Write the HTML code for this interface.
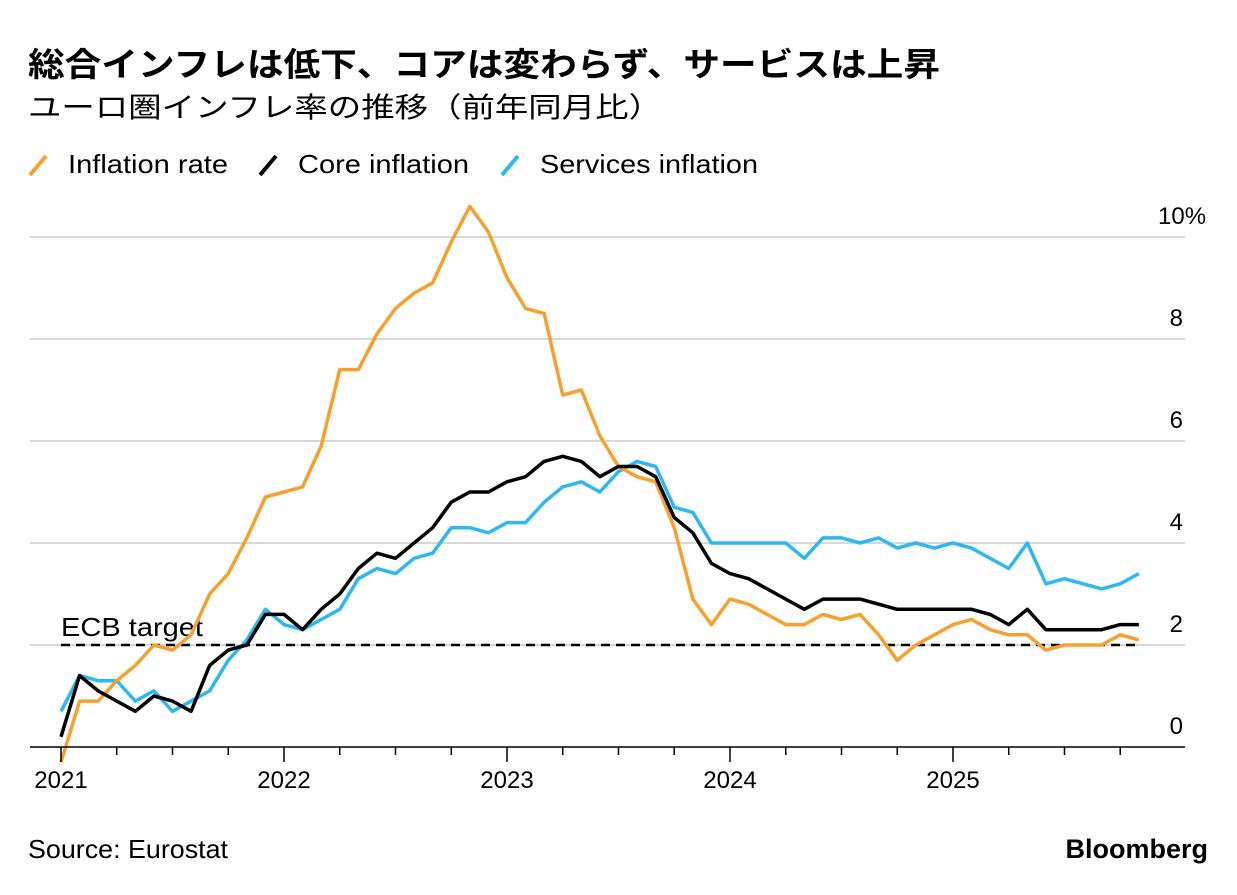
<!DOCTYPE html>
<html><head><meta charset="utf-8">
<style>
body{margin:0;background:#fff;width:1237px;height:890px;overflow:hidden;font-family:"Liberation Sans","Noto Sans CJK JP",sans-serif;}
</style></head>
<body>
<svg width="1237" height="890" xmlns="http://www.w3.org/2000/svg" id="chart">
<text x="28" y="76" font-size="33" font-weight="bold" fill="#000" textLength="912" lengthAdjust="spacingAndGlyphs">総合インフレは低下、コアは変わらず、サービスは上昇</text>
<text x="28" y="117" font-size="28" fill="#000" textLength="634" lengthAdjust="spacingAndGlyphs">ユーロ圏インフレ率の推移（前年同月比）</text>
<g id="legend"></g>
<g id="grid"></g><g id="series"></g><g id="axis"></g>
<text x="28" y="858" font-size="26" fill="#000" textLength="200" lengthAdjust="spacingAndGlyphs">Source: Eurostat</text>
<text x="1208" y="858" font-size="27" font-weight="bold" fill="#000" text-anchor="end">Bloomberg</text>
</svg>
<script>
const yTicks=[0,2,4,6,8,10];
const yearLabels=["2021","2022","2023","2024","2025"];
const headline=[-0.3,0.9,0.9,1.3,1.6,2.0,1.9,2.2,3.0,3.4,4.1,4.9,5.0,5.1,5.9,7.4,7.4,8.1,8.6,8.9,9.1,9.9,10.6,10.1,9.2,8.6,8.5,6.9,7.0,6.1,5.5,5.3,5.2,4.3,2.9,2.4,2.9,2.8,2.6,2.4,2.4,2.6,2.5,2.6,2.2,1.7,2.0,2.2,2.4,2.5,2.3,2.2,2.2,1.9,2.0,2.0,2.0,2.2,2.1];
const core=[0.2,1.4,1.1,0.9,0.7,1.0,0.9,0.7,1.6,1.9,2.0,2.6,2.6,2.3,2.7,3.0,3.5,3.8,3.7,4.0,4.3,4.8,5.0,5.0,5.2,5.3,5.6,5.7,5.6,5.3,5.5,5.5,5.3,4.5,4.2,3.6,3.4,3.3,3.1,2.9,2.7,2.9,2.9,2.9,2.8,2.7,2.7,2.7,2.7,2.7,2.6,2.4,2.7,2.3,2.3,2.3,2.3,2.4,2.4];
const services=[0.7,1.4,1.3,1.3,0.9,1.1,0.7,0.9,1.1,1.7,2.1,2.7,2.4,2.3,2.5,2.7,3.3,3.5,3.4,3.7,3.8,4.3,4.3,4.2,4.4,4.4,4.8,5.1,5.2,5.0,5.4,5.6,5.5,4.7,4.6,4.0,4.0,4.0,4.0,4.0,3.7,4.1,4.1,4.0,4.1,3.9,4.0,3.9,4.0,3.9,3.7,3.5,4.0,3.2,3.3,3.2,3.1,3.2,3.4];
const target=2;
const NS="http://www.w3.org/2000/svg";
const x=i=>61+i*18.583;
const y=v=>747-v*51;
function mk(tag,attrs,parent){const e=document.createElementNS(NS,tag);for(const k in attrs)e.setAttribute(k,attrs[k]);parent.appendChild(e);return e;}
const grid=document.getElementById('grid'),axis=document.getElementById('axis'),ser=document.getElementById('series'),leg=document.getElementById('legend');
yTicks.forEach(t=>{
  if(t>0){const l=mk('line',{x1:30,x2:1185,y1:y(t),y2:y(t),stroke:'#ccc','stroke-width':1.5},grid);
  
  }
  const tx=t===10?mk('text',{x:1158,y:y(t)-13,'font-size':24,fill:'#000'},axis):mk('text',{x:1183,y:y(t)-13,'font-size':24,fill:'#000','text-anchor':'end'},axis);
  tx.textContent=t===10?'10%':String(t);
  
  
});
const base=mk('line',{x1:30,x2:1185,y1:747,y2:747,stroke:'#000','stroke-width':1.5},axis);


for(let q=0;q<=19;q++){const xi=x(q*3);const yr=q%4===0;
  const tk=mk('line',{x1:xi,x2:xi,y1:747,y2:yr?762:755,stroke:'#000','stroke-width':1.5},axis);
  
  }
yearLabels.forEach((lab,i)=>{const t=mk('text',{x:x(i*12),y:788,'font-size':24,fill:'#000','text-anchor':'middle'},axis);t.textContent=lab;
  
  });
const tl=mk('line',{x1:x(0),x2:x(headline.length-1),y1:y(target),y2:y(target),stroke:'#000','stroke-width':2.5,'stroke-dasharray':'9,6'},ser);


const tt=mk('text',{x:61,y:y(target)-9,'font-size':26,fill:'#000',textLength:142,lengthAdjust:'spacingAndGlyphs'},ser);tt.textContent='ECB target';


const defs=[[services,'#2db8f0','services-inflation-line'],[headline,'#f6a02d','inflation-rate-line'],[core,'#000','core-inflation-line']];
defs.forEach(([d,c,n])=>{const p=mk('polyline',{points:d.map((v,i)=>x(i)+','+y(v)).join(' '),fill:'none',stroke:c,'stroke-width':3.5,'stroke-linejoin':'round'},ser);
  
  });
[['Inflation rate','#f6a02d',28,160],['Core inflation','#000',258,171],['Services inflation','#2db8f0',500,218]].forEach(([lab,c,lx,w])=>{
  const g=mk('g',{},leg);
  
  
  mk('line',{x1:lx+2,y1:175,x2:lx+18,y2:156,stroke:c,'stroke-width':4},g);
  const t=mk('text',{x:lx+40,y:173,'font-size':26,fill:'#000',textLength:w,lengthAdjust:'spacingAndGlyphs'},g);t.textContent=lab;
});
</script>
</body></html>
